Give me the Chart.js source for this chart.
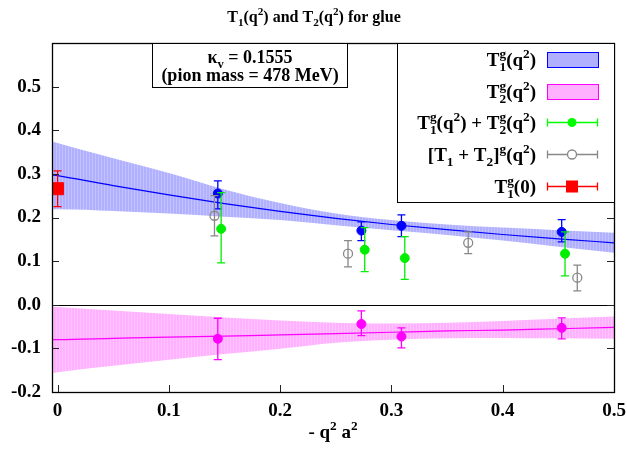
<!DOCTYPE html>
<html><head><meta charset="utf-8">
<script src="https://cdn.jsdelivr.net/npm/chart.js@4.4.1/dist/chart.umd.min.js"></script>
<style>html,body{margin:0;padding:0;background:#fff;}canvas{display:block;}</style>
</head><body>
<canvas id="c" width="627" height="454"></canvas>
<script>
// ---- tick labels ----
const xTicks = [0, 0.1, 0.2, 0.3, 0.4, 0.5];
const xTickLabels = ['0', '0.1', '0.2', '0.3', '0.4', '0.5'];
const yTicks = [-0.2, -0.1, 0, 0.1, 0.2, 0.3, 0.4, 0.5, 0.6];
const yTickLabels = ['-0.2', '-0.1', '0.0', '0.1', '0.2', '0.3', '0.4', '0.5', ''];

// ---- fit bands ----
const bandX   = [-0.005, 0, 0.05, 0.1, 0.15, 0.2, 0.25, 0.3, 0.35, 0.4, 0.45, 0.5];
const t1Mid   = [0.298, 0.296, 0.273, 0.252, 0.232, 0.214, 0.198, 0.184, 0.172, 0.161, 0.151, 0.142];
const t1Upper = [0.375, 0.371, 0.336, 0.302, 0.264, 0.233, 0.209, 0.194, 0.184, 0.177, 0.171, 0.165];
const t1Lower = [0.219, 0.219, 0.215, 0.209, 0.202, 0.194, 0.182, 0.171, 0.160, 0.147, 0.133, 0.119];
const t2Mid   = [-0.080, -0.080, -0.077, -0.074, -0.072, -0.069, -0.066, -0.063, -0.060, -0.058, -0.055, -0.052];
const t2Upper = [-0.004, -0.005, -0.013, -0.021, -0.029, -0.036, -0.041, -0.043, -0.041, -0.037, -0.032, -0.027];
const t2Lower = [-0.157, -0.155, -0.140, -0.126, -0.113, -0.101, -0.087, -0.080, -0.077, -0.076, -0.077, -0.078];

// ---- data points ----
const t1X  = [0.144, 0.273, 0.309, 0.453];
const t1Y  = [0.255, 0.170, 0.181, 0.167];
const t1Lo = [0.220, 0.147, 0.156, 0.144];
const t1Hi = [0.284, 0.190, 0.206, 0.195];

const t2X  = [0.144, 0.273, 0.309, 0.453];
const t2Y  = [-0.078, -0.044, -0.073, -0.053];
const t2Lo = [-0.126, -0.071, -0.099, -0.078];
const t2Hi = [-0.031, -0.014, -0.053, -0.030];

const sumX  = [0.147, 0.276, 0.312, 0.456];
const sumY  = [0.174, 0.126, 0.107, 0.117];
const sumLo = [0.096, 0.076, 0.058, 0.066];
const sumHi = [0.257, 0.177, 0.156, 0.167];

const cmbX  = [0.141, 0.261, 0.369, 0.467];
const cmbY  = [0.204, 0.117, 0.142, 0.062];
const cmbLo = [0.158, 0.087, 0.117, 0.032];
const cmbHi = [0.250, 0.147, 0.167, 0.091];

const zeroX  = [0];
const zeroY  = [0.266];
const zeroLo = [0.225];
const zeroHi = [0.307];

// ---- helpers ----
const FONT = '"Liberation Serif", "Times New Roman", serif';
function pts(xs, ys) { return xs.map((x, i) => ({ x: x, y: ys[i] })); }
function errs(lo, hi) { return lo.map((l, i) => [l, hi[i]]); }
function stripe(c1, c2) {
  const pc = document.createElement('canvas');
  pc.width = 3; pc.height = 1;
  const p = pc.getContext('2d');
  p.fillStyle = c1; p.fillRect(0, 0, 3, 1);
  p.fillStyle = c2; p.fillRect(2, 0, 1, 1);
  return document.getElementById('c').getContext('2d').createPattern(pc, 'repeat');
}
const bluePat = stripe('#b0b0ff', '#c2c2ff');
const pinkPat = stripe('#ffb0ff', '#ffc4ff');

function richMeasure(ctx, parts, size) {
  let w = 0;
  const s = size * 0.7;
  parts.forEach(p => {
    if (p[1] === 'n') { ctx.font = `bold ${size}px ${FONT}`; w += ctx.measureText(p[0]).width; }
    else if (p[1] === 'ss') { ctx.font = `bold ${s}px ${FONT}`; const a = p[0].split('|'); w += Math.max(ctx.measureText(a[0]).width, ctx.measureText(a[1]).width); }
    else { ctx.font = `bold ${s}px ${FONT}`; w += ctx.measureText(p[0]).width; }
  });
  return w;
}
function drawRich(ctx, x, y, parts, size, align) {
  const w = richMeasure(ctx, parts, size);
  let cx = align === 'right' ? x - w : (align === 'center' ? x - w / 2 : x);
  const s = size * 0.7;
  ctx.textAlign = 'left';
  ctx.textBaseline = 'alphabetic';
  ctx.fillStyle = '#000';
  parts.forEach(p => {
    if (p[1] === 'n') {
      ctx.font = `bold ${size}px ${FONT}`; ctx.fillText(p[0], cx, y); cx += ctx.measureText(p[0]).width;
    } else if (p[1] === 'sup') {
      ctx.font = `bold ${s}px ${FONT}`; ctx.fillText(p[0], cx, y - size * 0.42); cx += ctx.measureText(p[0]).width;
    } else if (p[1] === 'sub') {
      ctx.font = `bold ${s}px ${FONT}`; ctx.fillText(p[0], cx, y + size * 0.25); cx += ctx.measureText(p[0]).width;
    } else {
      ctx.font = `bold ${s}px ${FONT}`;
      const a = p[0].split('|');
      ctx.fillText(a[0], cx, y - size * 0.42);
      ctx.fillText(a[1], cx, y + size * 0.25);
      cx += Math.max(ctx.measureText(a[0]).width, ctx.measureText(a[1]).width);
    }
  });
}

// ---- error bar plugin ----
const errorBars = {
  id: 'errorBars',
  beforeDatasetDraw(chart, args) {
    const ds = chart.data.datasets[args.index];
    if (!ds.errors) return;
    const ctx = chart.ctx, xs = chart.scales.x, ys = chart.scales.y;
    ctx.save();
    ctx.strokeStyle = ds.barColor || ds.borderColor;
    ctx.lineWidth = 1.3;
    ds.data.forEach((p, i) => {
      const px = xs.getPixelForValue(p.x);
      const lo = ys.getPixelForValue(ds.errors[i][0]);
      const hi = ys.getPixelForValue(ds.errors[i][1]);
      ctx.beginPath();
      ctx.moveTo(px, lo); ctx.lineTo(px, hi);
      ctx.moveTo(px - 4, lo); ctx.lineTo(px + 4, lo);
      ctx.moveTo(px - 4, hi); ctx.lineTo(px + 4, hi);
      ctx.stroke();
    });
    ctx.restore();
  }
};

// ---- decorations plugin ----
const decor = {
  id: 'decor',
  afterDraw(chart) {
    const ctx = chart.ctx, a = chart.chartArea, xs = chart.scales.x, ys = chart.scales.y;
    ctx.save();
    // zero axis
    ctx.strokeStyle = '#000'; ctx.lineWidth = 1.2;
    const y0 = Math.round(ys.getPixelForValue(0)) + 0.5;
    ctx.beginPath(); ctx.moveTo(a.left, y0); ctx.lineTo(a.right, y0); ctx.stroke();
    // ticks
    ctx.strokeStyle = '#222'; ctx.lineWidth = 1;
    ctx.beginPath();
    yTicks.forEach(v => {
      const py = Math.round(ys.getPixelForValue(v)) + 0.5;
      ctx.moveTo(a.left, py); ctx.lineTo(a.left + 7, py);
      ctx.moveTo(a.right, py); ctx.lineTo(a.right - 7, py);
    });
    xTicks.forEach(v => {
      const px = Math.round(xs.getPixelForValue(v)) + 0.5;
      ctx.moveTo(px, a.bottom); ctx.lineTo(px, a.bottom - 7);
    });
    ctx.stroke();
    // frame
    ctx.strokeStyle = '#000'; ctx.lineWidth = 1.3;
    ctx.strokeRect(Math.round(a.left) + 0.5, Math.round(a.top) + 0.5, Math.round(a.right - a.left), Math.round(a.bottom - a.top));

    // title
    drawRich(ctx, 314, 22, [['T', 'n'], ['1', 'sub'], ['(q', 'n'], ['2', 'sup'], [') and T', 'n'], ['2', 'sub'], ['(q', 'n'], ['2', 'sup'], [') for glue', 'n']], 16, 'center');
    // x axis title
    drawRich(ctx, (a.left + a.right) / 2, 438, [['- q', 'n'], ['2', 'sup'], [' a', 'n'], ['2', 'sup']], 19, 'center');

    // kappa box
    ctx.fillStyle = '#fff';
    ctx.fillRect(152, a.top, 195, 44);
    ctx.strokeStyle = '#000'; ctx.lineWidth = 1;
    ctx.strokeRect(152.5, Math.round(a.top) + 0.5, 195, 44);
    drawRich(ctx, 250, 63, [['\u03ba', 'n'], ['v', 'sub'], [' = 0.1555', 'n']], 18, 'center');
    drawRich(ctx, 250, 81, [['(pion mass = 478 MeV)', 'n']], 18, 'center');

    // legend box
    ctx.fillStyle = '#fff';
    ctx.fillRect(397, a.top, a.right - 397, 159);
    ctx.strokeStyle = '#000'; ctx.lineWidth = 1;
    ctx.strokeRect(397.5, Math.round(a.top) + 0.5, Math.round(a.right) - 397, 159);
    const ly = [59, 91, 122, 154, 186];
    const tx = 536, s0 = 547, s1 = 598, sc = 572;
    const L = [
      [['T', 'n'], ['g|1', 'ss'], ['(q', 'n'], ['2', 'sup'], [')', 'n']],
      [['T', 'n'], ['g|2', 'ss'], ['(q', 'n'], ['2', 'sup'], [')', 'n']],
      [['T', 'n'], ['g|1', 'ss'], ['(q', 'n'], ['2', 'sup'], [') + T', 'n'], ['g|2', 'ss'], ['(q', 'n'], ['2', 'sup'], [')', 'n']],
      [['[T', 'n'], ['1', 'sub'], [' + T', 'n'], ['2', 'sub'], [']', 'n'], ['g', 'sup'], ['(q', 'n'], ['2', 'sup'], [')', 'n']],
      [['T', 'n'], ['g|1', 'ss'], ['(0)', 'n']]
    ];
    L.forEach((parts, i) => drawRich(ctx, tx, ly[i] + 7, parts, 19, 'right'));
    // band samples
    ctx.fillStyle = '#b0b0ff'; ctx.fillRect(s0, ly[0] - 7, s1 - s0, 15);
    ctx.strokeStyle = '#0000ff'; ctx.strokeRect(s0 + 0.5, ly[0] - 7 + 0.5, s1 - s0, 15);
    ctx.fillStyle = '#ffb0ff'; ctx.fillRect(s0, ly[1] - 7, s1 - s0, 15);
    ctx.strokeStyle = '#ff00ff'; ctx.strokeRect(s0 + 0.5, ly[1] - 7 + 0.5, s1 - s0, 15);
    // errorbar samples
    const samp = (y, col) => {
      ctx.strokeStyle = col; ctx.lineWidth = 1.3;
      const yy = y + 0.5;
      ctx.beginPath();
      ctx.moveTo(s0, yy); ctx.lineTo(s1, yy);
      ctx.moveTo(s0 + 0.5, yy - 4); ctx.lineTo(s0 + 0.5, yy + 4);
      ctx.moveTo(s1 - 0.5, yy - 4); ctx.lineTo(s1 - 0.5, yy + 4);
      ctx.stroke();
    };
    samp(ly[2], '#00ff00');
    ctx.fillStyle = '#00ff00'; ctx.beginPath(); ctx.arc(sc, ly[2] + 0.5, 4.5, 0, Math.PI * 2); ctx.fill();
    samp(ly[3], '#888888');
    ctx.fillStyle = '#fff'; ctx.beginPath(); ctx.arc(sc, ly[3] + 0.5, 4.5, 0, Math.PI * 2); ctx.fill();
    ctx.strokeStyle = '#888888'; ctx.lineWidth = 1.3; ctx.stroke();
    samp(ly[4], '#ff0000');
    ctx.fillStyle = '#ff0000'; ctx.fillRect(sc - 6, ly[4] + 0.5 - 6, 12, 12);
    ctx.restore();
  }
};

const ptStyle = (col) => ({ type: 'scatter', borderColor: col, backgroundColor: col, pointRadius: 4.5, pointHoverRadius: 4.5, pointBorderWidth: 1, showLine: false, order: 0 });

new Chart(document.getElementById('c'), {
  type: 'scatter',
  data: {
    datasets: [
      Object.assign(ptStyle('#ff0000'), { data: pts(zeroX, zeroY), errors: errs(zeroLo, zeroHi), pointStyle: 'rect', pointRadius: 8.5, pointHoverRadius: 8.5, clip: 0 }),
      Object.assign(ptStyle('#888888'), { data: pts(cmbX, cmbY), errors: errs(cmbLo, cmbHi), backgroundColor: 'rgba(0,0,0,0)', pointBorderWidth: 1.3 }),
      Object.assign(ptStyle('#00ee00'), { data: pts(sumX, sumY), errors: errs(sumLo, sumHi) }),
      Object.assign(ptStyle('#ff00ff'), { data: pts(t2X, t2Y), errors: errs(t2Lo, t2Hi) }),
      Object.assign(ptStyle('#0000ff'), { data: pts(t1X, t1Y), errors: errs(t1Lo, t1Hi) }),
      { type: 'line', data: pts(bandX, t1Mid), borderColor: '#0000ff', borderWidth: 1.2, pointRadius: 0, fill: false, cubicInterpolationMode: 'monotone', order: 1 },
      { type: 'line', data: pts(bandX, t2Mid), borderColor: '#ff00ff', borderWidth: 1.2, pointRadius: 0, fill: false, cubicInterpolationMode: 'monotone', order: 1 },
      { type: 'line', data: pts(bandX, t1Upper), borderWidth: 0, borderColor: 'rgba(0,0,0,0)', pointRadius: 0, backgroundColor: bluePat, fill: '+1', cubicInterpolationMode: 'monotone', order: 2 },
      { type: 'line', data: pts(bandX, t1Lower), borderWidth: 0, borderColor: 'rgba(0,0,0,0)', pointRadius: 0, fill: false, cubicInterpolationMode: 'monotone', order: 2 },
      { type: 'line', data: pts(bandX, t2Upper), borderWidth: 0, borderColor: 'rgba(0,0,0,0)', pointRadius: 0, backgroundColor: pinkPat, fill: '+1', cubicInterpolationMode: 'monotone', order: 2 },
      { type: 'line', data: pts(bandX, t2Lower), borderWidth: 0, borderColor: 'rgba(0,0,0,0)', pointRadius: 0, fill: false, cubicInterpolationMode: 'monotone', order: 2 }
    ]
  },
  options: {
    responsive: false,
    animation: false,
    devicePixelRatio: 1,
    layout: { padding: { left: 0, top: 43, right: 13, bottom: 0 } },
    plugins: { legend: { display: false }, title: { display: false }, tooltip: { enabled: false } },
    scales: {
      x: {
        type: 'linear', min: -0.005, max: 0.5,
        grid: { display: false, drawTicks: false }, border: { display: false },
        afterBuildTicks: s => { s.ticks = xTicks.map(v => ({ value: v })); },
        afterFit: s => { s.height = 62; s.paddingLeft = 0; s.paddingRight = 0; },
        ticks: { callback: (v, i) => xTickLabels[i], font: { family: FONT, weight: 'bold', size: 19 }, color: '#000', padding: 8, maxRotation: 0, autoSkip: false }
      },
      y: {
        type: 'linear', min: -0.2, max: 0.6,
        grid: { display: false, drawTicks: false }, border: { display: false },
        afterBuildTicks: s => { s.ticks = yTicks.map(v => ({ value: v })); },
        afterFit: s => { s.width = 52; s.paddingTop = 0; s.paddingBottom = 0; },
        ticks: { callback: (v, i) => yTickLabels[i], font: { family: FONT, weight: 'bold', size: 19 }, color: '#000', padding: 11, autoSkip: false }
      }
    }
  },
  plugins: [errorBars, decor]
});
</script>
</body></html>
